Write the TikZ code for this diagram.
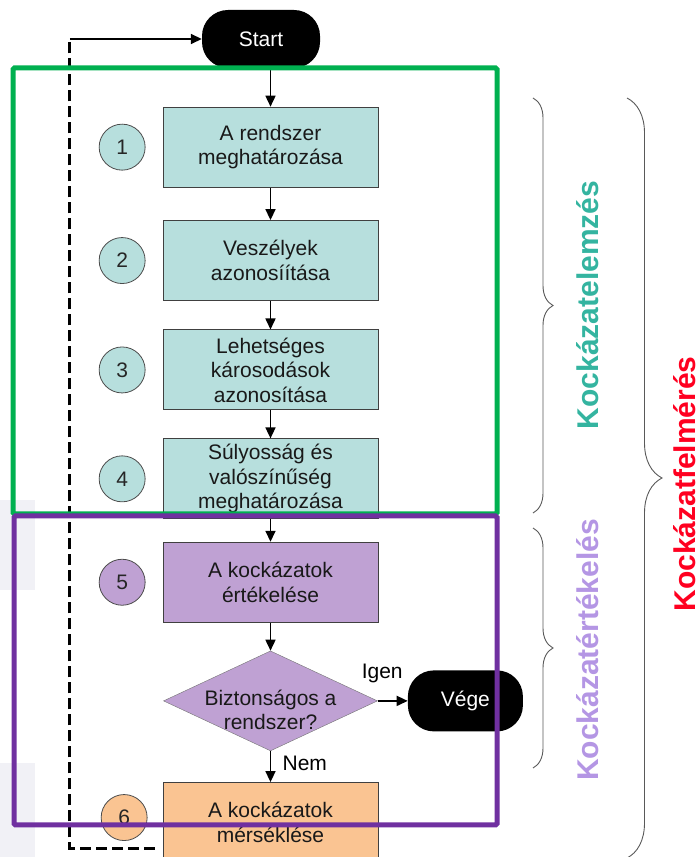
\documentclass[tikz,border=0pt]{standalone}
\usepackage{fontspec}
\setmainfont{Liberation Sans}
\usetikzlibrary{positioning, calc, arrows.meta, shapes.geometric, decorations.pathreplacing}
\definecolor{boxteal}{RGB}{183,223,221}
\definecolor{boxlila}{RGB}{191,161,211}
\definecolor{boxnarancs}{RGB}{250,196,146}
\definecolor{keretzold}{RGB}{0,176,80}
\definecolor{keretlila}{RGB}{112,48,160}
\definecolor{cimteal}{RGB}{52,180,160}
\definecolor{cimlila}{RGB}{180,150,228}
\definecolor{cimpiros}{RGB}{255,0,32}
\definecolor{szurke}{RGB}{241,241,246}
\tikzset{
  >={Triangle[length=11pt,width=10pt]},
  every node/.style={font=\fontsize{21}{24.5}\selectfont},
  lepes/.style={draw=black!75, line width=0.9pt, minimum width=215pt, minimum height=80pt,
    inner sep=2pt, align=center, text=black!90},
  kor/.style={circle, draw=black!70, line width=0.8pt, minimum size=46pt, inner sep=0pt, text=black!85},
  vegpont/.style={fill=black, text=white, rounded corners=26pt, minimum height=58pt, minimum width=118pt},
  nyil/.style={->, line width=1.6pt},
  vissza/.style={line width=3pt, dash pattern=on 11pt off 5pt},
  keret/.style={line width=5pt, rounded corners=1.5pt},
  kapocs/.style={decorate, decoration={brace, amplitude=#1}, draw=black!65, line width=0.9pt},
  oldalcim/.style={rotate=90, anchor=base, inner sep=0pt, font=\fontsize{30}{36}\selectfont\bfseries}
}

\begin{document}
\begin{tikzpicture}[x=1pt, y=1pt]
    \useasboundingbox (0,0) rectangle (700,857);
    \fill[szurke] (0,357) rectangle (35,267);
    \fill[szurke] (0,94) rectangle (35,0);

    \node[vegpont] (start) at (261,818) {Start};
    \node[lepes, fill=boxteal] (b1) [below=38.5pt of start, xshift=9.5pt] {A rendszer\\meghatározása};
    \node[lepes, fill=boxteal] (b2) [below=32.5pt of b1] {Veszélyek\\azonosíítása};
    \node[lepes, fill=boxteal] (b3) [below=28.5pt of b2] {Lehetséges\\károsodások\\azonosítása};
    \node[lepes, fill=boxteal] (b4) [below=28pt of b3] {Súlyosság és\\valószínűség\\meghatározása};
    \node[lepes, fill=boxlila] (b5) [below=22.5pt of b4] {A kockázatok\\értékelése};
    \node[diamond, draw=black!55, fill=boxlila, minimum width=214pt, minimum height=100pt, inner sep=0pt,
      label={[align=center, yshift=-9pt, text=black!90]center:{Biztonságos a\\rendszer?}}]
      (dia) [below=28pt of b5] {};
    \node[vegpont, minimum width=115pt, minimum height=61pt] (vege) [right=30pt of dia] {Vége};
    \node[lepes, fill=boxnarancs] (b6) [below=34pt of dia, yshift=3pt] {A kockázatok\\mérséklése};

    \node[kor, fill=boxteal] (c1) [left=17pt of b1] {1};
    \node[kor, fill=boxteal] (c2) [left=17pt of b2] {2};
    \node[kor, fill=boxteal] (c3) [left=17pt of b3] {3};
    \node[kor, fill=boxteal] (c4) [left=17pt of b4] {4};
    \node[kor, fill=boxlila] (c5) [left=17pt of b5] {5};
    \node[kor, fill=boxnarancs] (c6) [left=15pt of b6, yshift=5pt] {6};

    \draw[nyil] (b1.north |- start.south) -- (b1);
    \draw[nyil] (b1) -- (b2);
    \draw[nyil] (b2) -- (b3);
    \draw[nyil] (b3) -- (b4);
    \draw[nyil] (b4) -- (b5);
    \draw[nyil] (b5) -- (dia);
    \draw[nyil] (dia) -- node[pos=0.15, above=14pt] {Igen} (vege);
    \draw[nyil] (dia) -- node[pos=0.4, right=8pt] {Nem} (b6);

    % visszacsatolas
    \coordinate (ret) at ($(b6.west)+(-8,-26)$);
    \coordinate (turn) at ([xshift=-132pt]start.west);
    \draw[vissza] (ret) -| (turn);
    \draw[nyil] (turn) -- (start);

    \draw[keret, keretzold] (13,789) rectangle (497,343);
    \draw[keret, keretlila] (14,341) rectangle (497,32);

    \draw[kapocs=20pt] (533,759) -- (533,344);
    \draw[kapocs=20pt] (533,329) -- (533,89);
    \draw[kapocs=35pt] (627,759) -- (627,-1);
    \node[oldalcim, text=cimteal] (lbA) at (598,552) {Kockázatelemzés};
    \node[oldalcim, text=cimlila] (lbB) at (598,207) {Kockázatértékelés};
    \node[oldalcim, text=cimpiros] (lbC) at (695,373) {Kockázatfelmérés};
\end{tikzpicture}
\end{document}
